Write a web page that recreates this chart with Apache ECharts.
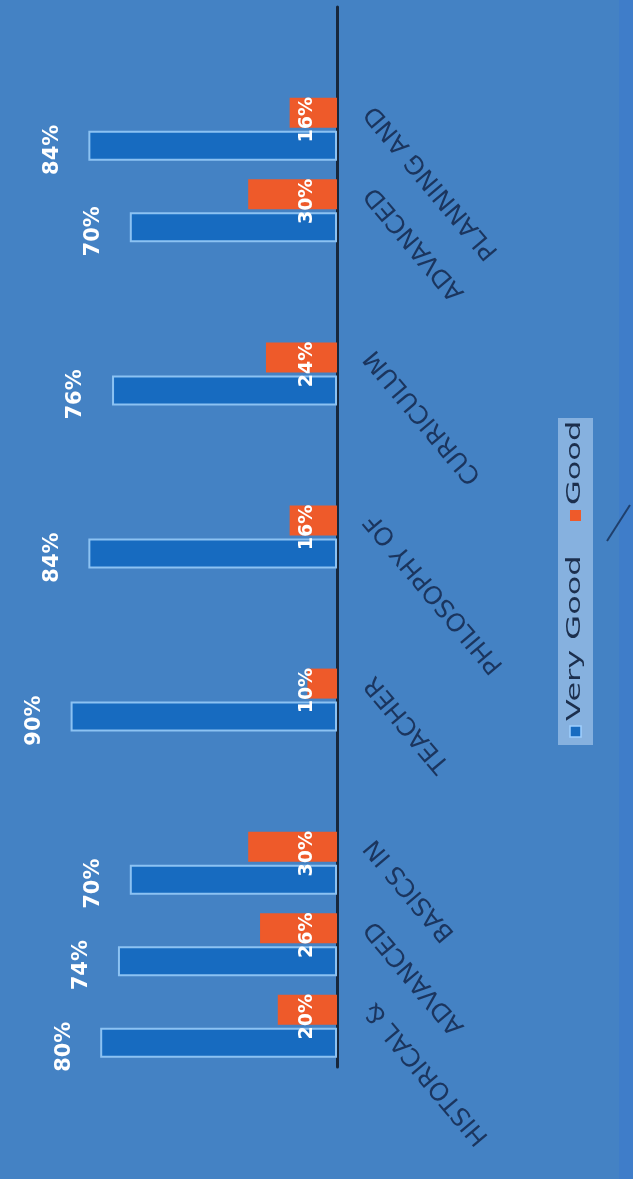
<!DOCTYPE html>
<html>
<head>
<meta charset="utf-8">
<script src="https://cdn.jsdelivr.net/npm/echarts@6/dist/echarts.min.js"></script>
<style>
html,body{margin:0;padding:0;background:#4482C4;}
#chart{width:633px;height:1179px;}
</style>
</head>
<body>
<div id="chart"></div>
<script>
// Category slots, first one at the bottom of the picture (empty slots kept as gaps)
const categories = ['HISTORICAL &', 'ADVANCED', 'BASICS IN', '', 'TEACHER', '', 'PHILOSOPHY OF', '', 'CURRICULUM', '', 'ADVANCED', 'PLANNING AND', ''];
const seriesNames = ['Very Good', 'Good'];
const veryGood = [80, 74, 70, null, 90, null, 84, null, 76, null, 70, 84, null];
const good = [20, 26, 30, null, 10, null, 16, null, 24, null, 30, 16, null];

const BLUE = '#176BC0';
const ORANGE = '#EE5A2A';

const chart = echarts.init(document.getElementById('chart'), null, {renderer: 'canvas'});

const legendChildren = [
  {type: 'rect', shape: {x: 0, y: -17, width: 327, height: 35}, style: {fill: 'rgba(190,216,245,0.55)'}},
  {type: 'rect', shape: {x: 8, y: -5, width: 11, height: 11}, style: {fill: BLUE, stroke: '#9fd0ff', lineWidth: 1.5}},
  {type: 'text', x: 24, y: 0, scaleX: 1.6, style: {text: seriesNames[0], fill: '#1c2f4d', font: '20px "DejaVu Sans"', verticalAlign: 'middle', align: 'left'}},
  {type: 'rect', shape: {x: 224, y: -5, width: 11, height: 11}, style: {fill: ORANGE}},
  {type: 'text', x: 240, y: 0, scaleX: 1.6, style: {text: seriesNames[1], fill: '#1c2f4d', font: '20px "DejaVu Sans"', verticalAlign: 'middle', align: 'left'}}
];

const option = {
  backgroundColor: '#4482C4',
  animation: false,
  grid: {top: 7, bottom: 112, left: 41, right: 296, containLabel: false},
  xAxis: {
    type: 'value', inverse: true, min: 0, max: 100, show: false
  },
  yAxis: {
    type: 'category',
    data: categories,
    position: 'right',
    axisLine: {show: true, onZero: false, lineStyle: {color: '#17273c', width: 3}},
    axisTick: {show: false},
    splitLine: {show: false},
    axisLabel: {
      interval: 0,
      rotate: 130,
      margin: 8,
      color: '#1b355e',
      fontFamily: 'DejaVu Sans',
      fontSize: 25,
      verticalAlign: 'top',
      padding: [20, 0, 0, 0]
    }
  },
  series: [
    {
      name: seriesNames[1], type: 'bar', data: good,
      barWidth: 30, barGap: '10%',
      itemStyle: {color: ORANGE},
      label: {
        show: true, position: 'insideRight', distance: 30, rotate: 90,
        align: 'center', verticalAlign: 'middle', offset: [-7, 0],
        formatter: '{c}%', color: '#ffffff',
        fontFamily: 'DejaVu Sans', fontWeight: 'bold', fontSize: 19
      }
    },
    {
      name: seriesNames[0], type: 'bar', data: veryGood,
      barWidth: 30, barGap: '10%',
      itemStyle: {color: BLUE, borderColor: '#8cc2f2', borderWidth: 2},
      label: {
        show: true, position: 'left', distance: 36, rotate: 90,
        align: 'center', verticalAlign: 'middle', offset: [-4, 0],
        formatter: '{c}%', color: '#ffffff',
        fontFamily: 'DejaVu Sans', fontWeight: 'bold', fontSize: 21
      }
    }
  ],
  graphic: [
    {type: 'rect', shape: {x: 619, y: 0, width: 14, height: 1179}, style: {fill: '#3F7DC9'}, silent: true},
    {type: 'group', x: 575, y: 745, rotation: Math.PI / 2, children: legendChildren},
    {type: 'line', shape: {x1: 630, y1: 505, x2: 607, y2: 541}, style: {stroke: '#1f3f6c', lineWidth: 2}}
  ]
};
chart.setOption(option);
</script>
</body>
</html>
